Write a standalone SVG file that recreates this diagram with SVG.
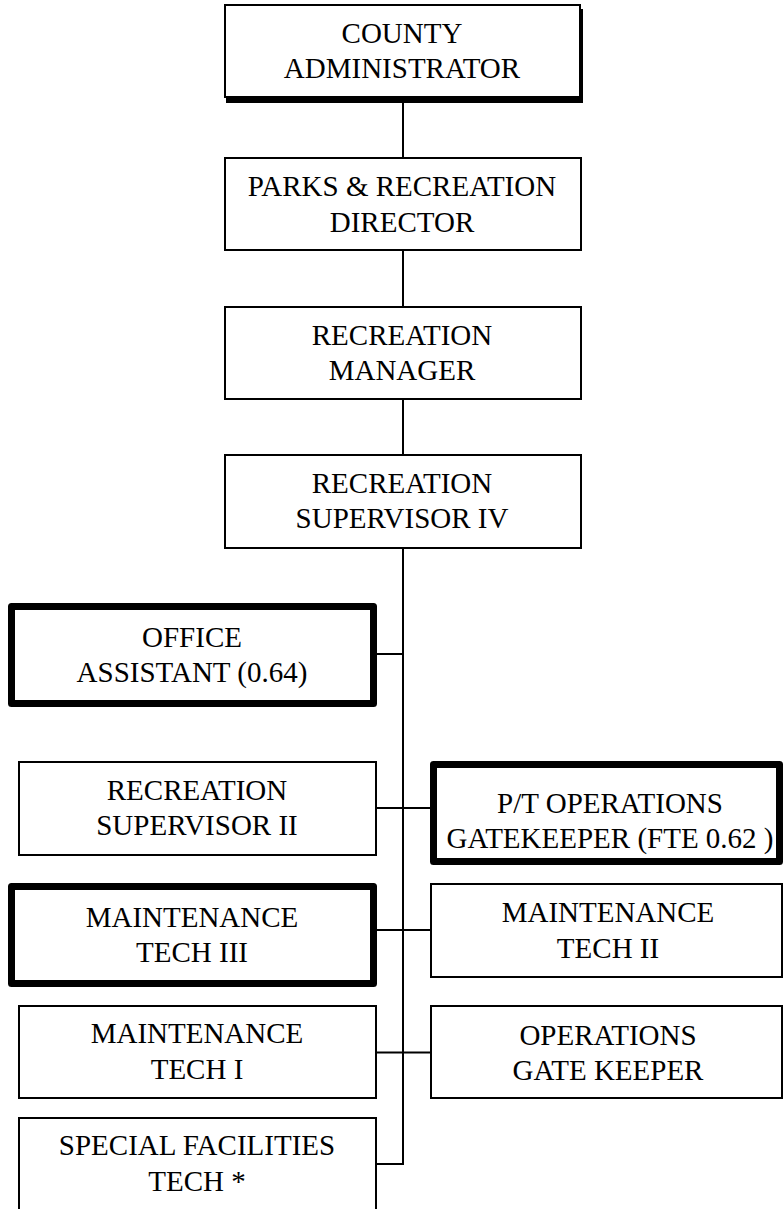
<svg xmlns="http://www.w3.org/2000/svg" width="783" height="1209" viewBox="0 0 783 1209">
  <style>
    .box { fill: #fff; stroke: #000; stroke-width: 2; }
    .thick { fill: #fff; stroke: #000; stroke-width: 7; stroke-linejoin: round; }
    .line { stroke: #000; stroke-width: 2; fill: none; }
    text { font-family: "Liberation Serif", "Times New Roman", serif; font-size: 29px; fill: #000; text-anchor: middle; }
  </style>
  <rect width="783" height="1209" fill="#fff"/>

  <!-- connectors -->
  <g id="connectors">
    <line class="line" x1="403" y1="100" x2="403" y2="1164"/>
    <line class="line" x1="376" y1="654" x2="403" y2="654"/>
    <line class="line" x1="376" y1="808" x2="431" y2="808"/>
    <line class="line" x1="376" y1="930" x2="431" y2="930"/>
    <line class="line" x1="376" y1="1052.5" x2="431" y2="1052.5"/>
    <line class="line" x1="376" y1="1164" x2="404" y2="1164"/>
  </g>

  <!-- top chain -->
  <g id="county-administrator">
    <rect x="226" y="9" width="357" height="94" fill="#000"/>
    <rect class="box" x="225" y="5" width="355" height="92"/>
    <text x="402" y="43">COUNTY</text>
    <text x="402" y="78">ADMINISTRATOR</text>
  </g>
  <g id="parks-director">
    <rect class="box" x="225" y="158" width="356" height="92"/>
    <text x="402" y="196">PARKS &amp; RECREATION</text>
    <text x="402" y="232">DIRECTOR</text>
  </g>
  <g id="recreation-manager">
    <rect class="box" x="225" y="307" width="356" height="92"/>
    <text x="402" y="345">RECREATION</text>
    <text x="402" y="380">MANAGER</text>
  </g>
  <g id="recreation-supervisor-iv">
    <rect class="box" x="225" y="455" width="356" height="93"/>
    <text x="402" y="493">RECREATION</text>
    <text x="402" y="528">SUPERVISOR IV</text>
  </g>

  <!-- left column -->
  <g id="office-assistant">
    <rect class="thick" x="11.5" y="606.5" width="362" height="97"/>
    <text x="192" y="647">OFFICE</text>
    <text x="192" y="682">ASSISTANT (0.64)</text>
  </g>
  <g id="recreation-supervisor-ii">
    <rect class="box" x="19" y="762" width="357" height="93"/>
    <text x="197" y="800">RECREATION</text>
    <text x="197" y="835">SUPERVISOR II</text>
  </g>
  <g id="maintenance-tech-iii">
    <rect class="thick" x="11.5" y="886.5" width="362" height="97"/>
    <text x="192" y="927">MAINTENANCE</text>
    <text x="192" y="962">TECH III</text>
  </g>
  <g id="maintenance-tech-i">
    <rect class="box" x="19" y="1006" width="357" height="92"/>
    <text x="197" y="1043">MAINTENANCE</text>
    <text x="197" y="1079">TECH I</text>
  </g>
  <g id="special-facilities-tech">
    <rect class="box" x="19" y="1118" width="357" height="100"/>
    <text x="197" y="1155">SPECIAL FACILITIES</text>
    <text x="197" y="1191">TECH *</text>
  </g>

  <!-- right column -->
  <g id="pt-operations-gatekeeper">
    <rect class="thick" x="433.5" y="764.5" width="346" height="97"/>
    <text x="610" y="813">P/T OPERATIONS</text>
    <text x="610" y="848">GATEKEEPER (FTE 0.62 )</text>
  </g>
  <g id="maintenance-tech-ii">
    <rect class="box" x="431" y="884" width="351" height="93"/>
    <text x="608" y="922">MAINTENANCE</text>
    <text x="608" y="958">TECH II</text>
  </g>
  <g id="operations-gate-keeper">
    <rect class="box" x="431" y="1006" width="351" height="92"/>
    <text x="608" y="1045">OPERATIONS</text>
    <text x="608" y="1080">GATE KEEPER</text>
  </g>
</svg>
